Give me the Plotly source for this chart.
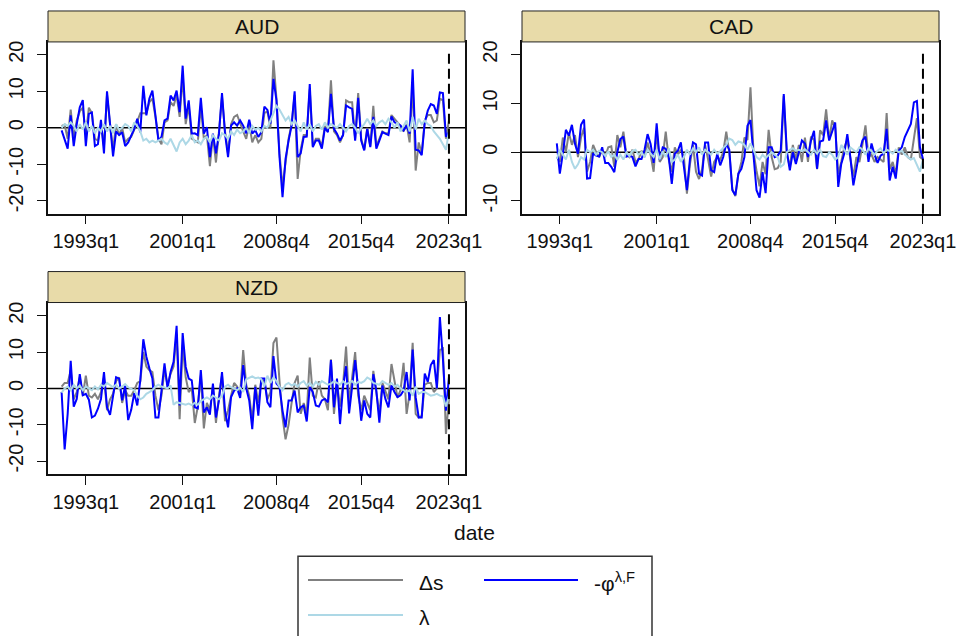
import plotly.graph_objects as go

# ---------------- data ----------------
panels = ["AUD", "CAD", "NZD"]
tick_labels = ["1993q1", "2001q1", "2008q4", "2015q4", "2023q1"]
end_label = "2023q1"

aud_ds = [0.5, 0.8, -3, 5, -3, 2, 4.5, 5.5, -2, 5.5, 4, -3, -3.5, 1, -5, 9, 1, -6, 1, -2,
          0, -4, -3, -2.5, -0.5, 2, 4, 4, 4, 7, 8, 3, -3, -4.5, 1.5, 2, 7, 6, 9, 3,
          14, 1, 6, -3, -3.5, -4, 6, -3, -2, -10.5, -2, -9.5, -1, 8.5, -1, -7, 1, 3, 3.5, 1,
          -1, -3, 1, -4, -2, -4, -3, 4, 4.5, 0, 18.5, 8, -7, -16, -9, -3, 1, 9, -14, -6,
          -2, -2, 10.5, -5, -3, -3, -5, 0.5, -1, 13, -1, -2, -4, -2, 7.5, 7, 7, -3, 9.5, -3,
          -6, 0, -5, 6, -5, -3, -1, -1.5, -1.5, 3.5, 2.5, 1.5, 0.5, -1, 1, -4, 12, -11.7, -4, -7,
          2, 3.5, 3.5, 1.5, 2, 8, 7.5, -3, 2]
aud_phi = [-0.7, -3, -5.7, 3.4, -5, 1, 5.6, 7.6, -5, 3.8, 4.2, -5, -4.5, 2.2, -7, 10, 0.6, -7.8, -1, -2,
           -1.2, -5, -4, -2, -0.3, 2.5, -1.2, 11.5, 3.4, 8, 10.2, 3.4, -3.5, -2.5, 2, 2.5, 8.8, 7.5, 10.2, 4.3,
           17, 2.5, 7.5, -1.6, -1.5, -2, 8.2, -1.6, 0.2, -8, -1.6, -7, -1.6, 9.5, -1.6, -8, 0.6, 1.5, 0.6, 2,
           0.6, -1.5, 2.2, -1.6, -0.7, -2.5, -1.2, 5.8, 4.9, 1.1, 13.4, 7.5, -8, -19, -8.5, -3.5, 0.6, 10, -8, -7,
           -2.5, -2.4, 12, -5.3, -3.5, -3.5, -5.7, 0, -1.2, 9.3, -0.3, -1.6, -3.5, -2, 6.1, 5.6, 5.2, -3.5, 8.2, -3.5,
           -6.2, -0.3, -5.3, 3, -5.7, -3.5, -1.2, -1.6, -2, 3.1, 1.5, 1.1, 0.6, -0.7, 0.6, -1.6, 16, -6, -6.2, -7.5,
           1.5, 4.7, 6.5, 6.1, 3.8, 9.7, 9.5, -2.4, -1.2]
aud_lam = [0, 1, 0.5, 1.5, 0.5, -1, 1, -0.5, 1.5, -1,
           0.5, -1.5, 0, -1, 1, -1, 0.5, -1.5, 1, -0.5,
           0, 1, 0.5, -1, 1.5, 0.5, -1, -3.5, -3, -4,
           -3.5, -4, -3.5, -3, -4, -4.5, -3, -5, -6.5, -4,
           -3, -4.5, -3.5, -2, -4, -3.5, -4.5, -3, -2.5, -4,
           -2, -3, -3.5, -1.5, -2, -3, -1, -2, -0.5, -1.5,
           -1, 0, -1.5, 0.5, -0.5, 0, -1, 0.5, 0, 2,
           4, 6, 5, 3.5, 2, 3, 1, 2, 0.5, -1,
           1.5, -0.5, 1, -1, 0.5, 1, -0.5, 1.5, 0, 1,
           0.5, 0, 1, 0, -1, 0.5, 1, 0, -1.5, 0,
           1, 2.5, 1, 2, 0.5, 1.5, 2, 1, 2.5, 1.5,
           0, 1.5, -1, 0.5, 2, -1, 3, -0.5, 2.5, 1,
           2, 1, 0.5, -1, -2, -3, -4.5, -6, -1]

cad_ds = [-1, -2, 3, 0, 4, 1.5, 3.5, -1, 3, 5,
          -4, -2, 1.5, 0, -1, 0.5, -1, 1, 1.2, -3,
          3.5, 1, 4.2, -0.5, -1, 0.5, -2, -1.5, 0.3, -1,
          2, -0.5, -4, 4.2, -2, -1, 4.2, -1.5, -4, 1,
          -0.5, 0.5, -1, -8.5, -2.5, 1.5, -4, -5.5, -3.5, 1.5,
          -1.5, -5, -2, -1, -1.5, 0, 4.2, 0, -7.5, -9,
          -4.5, -2, 3, 2.5, 13.3, 0, -3.8, -7, -2, -4.5,
          4.6, -1, -3.5, -3.3, -2, 11.5, -0.5, -3, 1.5, -1.5,
          1.5, -2, 3, -2, 3.2, 2.5, -3.5, 4.5, 3.5, 8.8,
          2.5, 6.5, 5, -4.5, -2, 1, 2.5, -1.5, -5, -1,
          -2, 1.5, 5.5, -1, -0.5, -2, -1, -1.5, -2, 8,
          -3.5, -2, -4.5, 1, -0.5, 1, -1, -1.5, 3, 7,
          -1, -1.5]
cad_phi = [1.8, -4.4, -0.3, 4.6, 3.4, 5.6, 1.7, -0.3, 5.6, 6.7,
           -5.4, -5.3, -0.2, -0.7, -0.9, 1, -2.2, -2.2, -3, -4.1,
           0, 2.7, 3.2, -0.9, -0.7, -1, -2.9, -1.4, -1.4, 0.5,
           3.7, 1.7, -2.2, 5.9, -1.6, 1, 0.7, -1, -6.5, -0.3,
           0.3, 2, -3, -7.8, -1.4, 2, 1.6, -4.4, -4.8, 2,
           2, -3.7, -4.1, -0.3, -2.7, -1, 1.7, 0.5, -7.8, -8.8,
           -4.4, -3.4, -1, 5.4, 6.6, 0, -7.8, -9.3, -4.1, -8.4,
           1, 1, -1, -0.7, 0.3, 11.9, 0.3, -3.7, 0, -2.4,
           0, 2.4, 1.8, -1, 2.4, 4.4, -3.4, 2.2, 2.4, 6.5,
           2.4, 4.1, 6.1, -7.1, -2.4, -0.3, 3.7, -1, -6.8, -3.4,
           0, 2.4, 3.2, -2, 1.8, -0.5, -2.2, -0.7, -0.3, 4.8,
           -5.8, -3, -5.4, 0.3, 1, 3.1, 4.4, 5.8, 10.2, 10.5,
           1, -1.4]
cad_lam = [-1.4, 0.5, -0.5, -1.5, 0.5, -2, -3.4, -2.5, -1, -1.5,
           0.5, 0, 0.5, -0.5, 0.3, 0, -0.8, 0.2, -1, -0.5,
           -1.5, -0.5, -1.5, 0, -0.8, 0.3, 0.5, -0.5, 0, -1,
           0.5, -0.3, -1, 0.5, -1.5, 0.2, -1, 0.8, -2, -1.5,
           -0.5, -2, -1, 0.5, -0.5, 0.8, 0, 1, -0.5, 0.5,
           0, -0.5, 0.5, -0.3, 0.2, 0.8, 1.5, 2.8, 2.5, 1.5,
           2.2, 2, 1.5, 0.5, 1.8, 0.5, -1, -1.5, -0.5, -1.2,
           -0.5, 0, -0.5, -1, -3, -2.5, 0, 0.5, 0.8, 0.3,
           0.5, 0.2, 0.6, 0, -0.5, 0.5, -0.3, 0.5, -0.8, -1,
           0, -0.5, -1.5, -1, 1.5, 0.5, -0.5, 1, 0.5, 0,
           1, 0.5, -0.5, 0.8, 0.2, -0.5, 0.3, 0.8, -0.2, 0.5,
           0.2, -0.3, 0.5, 0, 0.3, -0.5, -1, -1.5, -1.2, -2.5,
           -4, -1.5]

nzd_ds = [0.5, 1.5, 1.5, 5, -3, -1, 3, -2, 3.5, -2,
          -2.5, -1.5, -3, -1, 3, -6, -3, -1.5, 2, 3,
          -4, -0.5, -2, -2, -0.5, 1.5, 2, 10, 6, 5,
          4.5, -2, -6, -2, 5, 1, 4, 6, 15, -8.5,
          12, 3, -1, 0, -9.5, -5, 3.5, -11, -4, -6,
          0.5, -9.5, -2, 3.5, -9, -6, -2, 1.5, 0.5, -1.5,
          10.5, 1, -2, -9, 1, -4, 2.5, 2, -3, -1,
          12.5, 14, 2, -8, -14, -10, -4, 1.5, 3.5, -7,
          -4, -7, 8.5, -2, -2.5, 2, -2, -3, -6, 8,
          -7, 1.5, -5, 1, 11.5, -4, 3, 10, -2, -6,
          -2, -4, -6, 4.8, -1, -7, 1.5, -1, -3, 6.7,
          1.5, -2.5, -0.5, 7, -7, -1.5, 12.5, -7, -8, -7.5,
          1, 1.5, 1.5, -1, 0, 10.5, 11, -12.5, -3]
nzd_phi = [-1, -16.8, -7, 7.6, -5, -2.9, 3.9, -1.9, -1.5, -3.1,
           -8, -7.5, -5.6, -2.9, 4.5, -5.2, -7.3, -2.2, 3.1, 2.7,
           -3.3, 0.8, -8.7, -5.9, -1.3, -4.7, 2.2, 13.5, 8.7, 5.5,
           2.7, -8, -8, -0.6, 6.9, 0, 4.5, 7.3, 17.2, -4.7,
           15.2, 5.9, 2.7, 2.2, -5.2, -5.5, 5, -6.6, -5.2, -7.2,
           1.3, -8, -3.3, 4.5, -6.1, -10.7, -2.4, -0.6, 0, -2.6,
           6.4, 0, -3.3, -11.2, 0.4, -7.5, 2.7, 2.7, -3.8, -5.2,
           8.9, 1.3, 0.4, -6.1, -10.7, -3.3, -3.3, -0.6, -6.6, -5.2,
           -4.7, -9.1, 0.4, -1, -4.7, -5, -3.3, -2.9, -3.8, 7.8,
           -5.2, 2.7, -9.8, 0.4, 6.1, -6.9, 1.3, 7.8, 0, -8.9,
           -3.3, -7, -8, 3.9, -0.6, -9.4, 0.8, -2.9, -5.2, 0.8,
           -1, -2.4, -1.9, -0.6, 4.5, -3.3, 10.7, -2.4, -8, -8,
           4.1, 1.8, 6.4, 7.8, 0, 19.6, 8.2, -6.1, 3.1]
nzd_lam = [-1.2, 0, 0.5, -0.5, 1, 0, 0.8, -0.5, 0.5, 0,
           -0.5, 0.5, -0.3, 1, 0.5, 1.5, 0.8, 0.3, 1, 0,
           0.5, 1.2, 0.3, 0, -0.5, -2, -3, -2.5, -1.5, -1,
           -0.5, 0.5, 1, 0.5, 0.2, 0, 0.8, -4.5, -3.8, -4,
           -4.3, -4.5, -4.2, -4.6, -4, -4.5, -3.5, -3, -2.5, -3,
           -2, -2.5, -3, -2, 0.5, 1, 0.3, 0, -0.5, 0.2,
           -1, 2.5, 2.8, 3.3, 2.8, 3, 2.5, 0.5, 3.5, 1.5,
           3, 2, 0.5, -0.5, 1, 1.5, 0.8, 1.2, 0.5, 1.5,
           2, 0.8, 1.5, 0.5, 1.8, 1, 2, 1.5, 1, 1.3,
           2, 1.5, 1, 2, 1.2, 1.5, 2, 1, 1.8, 1.5,
           2, 3, 2.5, 1.5, 1.2, 1, 2, 1.5, 1, 1.5,
           0.5, 1, 0, -0.5, -1, -0.5, -2, 0.5, -1.5, -1,
           -1, -1.5, -2, -1.8, -1.5, -2, -2.2, -5, -2]

series = {
    "AUD": (aud_ds, aud_phi, aud_lam),
    "CAD": (cad_ds, cad_phi, cad_lam),
    "NZD": (nzd_ds, nzd_phi, nzd_lam),
}
y_ranges = {"AUD": [-23.5, 23.5], "CAD": [-12.6, 22.6], "NZD": [-23.6, 23.6]}
y_ticks = {"AUD": [-20, -10, 0, 10, 20], "CAD": [-10, 0, 10, 20], "NZD": [-20, -10, 0, 10, 20]}


def tq(label):
    y, q = label.split("q")
    return (int(y) - 1960) * 4 + int(q) - 1


END = tq(end_label)
tick_vals = [tq(t) for t in tick_labels]

# ---------------- layout geometry (target pixels in a 962x636 picture) ----------------
W, H = 962, 636
FIG_W = 979  # page is photographed slightly narrower; widen so positions land on target
FONT = "Liberation Sans, Arial, sans-serif"
COL_DS, COL_PHI, COL_LAM = "#808080", "#0000ff", "#add8e6"
boxes = {"AUD": (48, 465, 41, 213), "CAD": (522, 939, 41, 213), "NZD": (48, 465, 302, 474)}
HDR = 31


def px(x):
    return x / W


def py(y):
    return 1 - y / H


fig = go.Figure()
shapes, annotations = [], []
for i, name in enumerate(panels):
    sfx = "" if i == 0 else str(i + 1)
    xa, ya = "x" + sfx, "y" + sfx
    ds, phi, lam = series[name]
    for vals, col, nm in ((ds, COL_DS, "Δs"), (phi, COL_PHI, "-φ"), (lam, COL_LAM, "λ")):
        xs = list(range(END - len(vals) + 1, END + 1))
        fig.add_trace(go.Scatter(x=xs, y=vals, mode="lines", name=nm,
                                 line=dict(color=col, width=2), xaxis=xa, yaxis=ya,
                                 showlegend=False, hoverinfo="skip"))
    x0, x1, yt, yb = boxes[name]
    ax = dict(domain=[px(x0), px(x1)], range=[119.5, 257.3], tickvals=tick_vals,
              ticktext=tick_labels, showline=True, mirror=True, linecolor="#111",
              linewidth=1.5, ticks="outside", ticklen=9, tickwidth=1.2, tickcolor="#111",
              showgrid=False, zeroline=False, tickfont=dict(size=20, color="#111", family=FONT),
              anchor=ya)
    ay = dict(domain=[py(yb), py(yt)], range=y_ranges[name], tickvals=y_ticks[name],
              ticktext=[str(v) for v in y_ticks[name]],
              showline=True, mirror=True, linecolor="#111", linewidth=1.5,
              ticks="outside", ticklen=9, tickwidth=1.2, tickcolor="#111",
              showgrid=False, zeroline=False, tickangle=-90, ticklabelstandoff=6,
              tickfont=dict(size=20, color="#111", family=FONT), anchor=xa)
    fig.update_layout(**{"xaxis" + sfx: ax, "yaxis" + sfx: ay})
    shapes.append(dict(type="line", xref=xa + " domain", yref=ya, x0=0, x1=1, y0=0, y1=0,
                       line=dict(color="#000", width=1.5), layer="below"))
    shapes.append(dict(type="line", xref=xa, yref=ya + " domain", x0=END, x1=END, y0=0, y1=0.96,
                       line=dict(color="#000", width=2, dash="10px,5px")))
    shapes.append(dict(type="rect", xref="paper", yref="paper", x0=px(x0), x1=px(x1),
                       y0=py(yt), y1=py(yt - HDR), fillcolor="#e8dba9",
                       line=dict(color="#222", width=1)))
    annotations.append(dict(text=name, xref="paper", yref="paper", x=px((x0 + x1) / 2),
                            y=py(yt - HDR / 2), showarrow=False, xanchor="center",
                            yanchor="middle", font=dict(size=21, color="#111", family=FONT)))

annotations.append(dict(text="date", xref="paper", yref="paper", x=px(474), y=py(532),
                        showarrow=False, xanchor="center", yanchor="middle",
                        font=dict(size=21, color="#111", family=FONT)))

shapes.append(dict(type="rect", xref="paper", yref="paper", x0=px(298), x1=px(652),
                   y0=-0.02, y1=py(556), line=dict(color="#333", width=1.5), fillcolor="white"))
legend_items = [(COL_DS, "Δs", 308, 403, 580), (COL_PHI, "-φ<sup>λ,F</sup>", 484, 578, 580),
                (COL_LAM, "λ", 308, 403, 615)]
for col, txt, lx0, lx1, ly in legend_items:
    shapes.append(dict(type="line", xref="paper", yref="paper", x0=px(lx0), x1=px(lx1),
                       y0=py(ly), y1=py(ly), line=dict(color=col, width=2)))
    annotations.append(dict(text=txt, xref="paper", yref="paper", x=px(lx1 + 14), y=py(ly + 2),
                            showarrow=False, xanchor="left", yanchor="middle",
                            font=dict(size=21, color="#111", family=FONT)))

fig.update_layout(width=FIG_W, height=H, margin=dict(l=0, r=0, t=0, b=0), autosize=False,
                  paper_bgcolor="white", plot_bgcolor="white", showlegend=False,
                  shapes=shapes, annotations=annotations,
                  font=dict(family=FONT, color="#111"))
fig.write_html("out.html", config={"responsive": False})
